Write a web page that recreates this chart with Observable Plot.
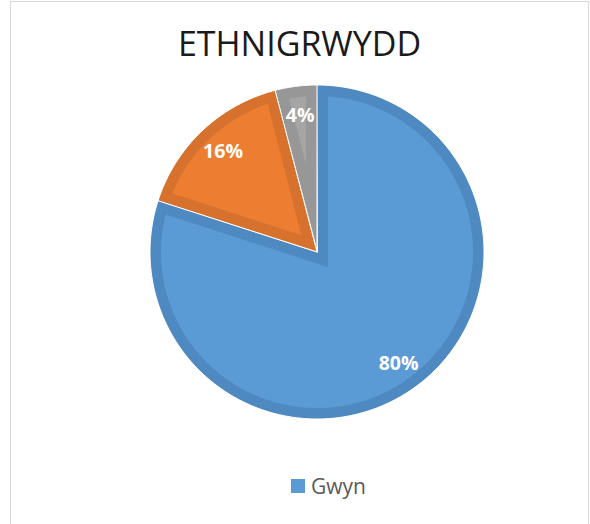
<!DOCTYPE html>
<html>
<head>
<meta charset="utf-8">
<script src="https://cdn.jsdelivr.net/npm/d3@7"></script>
<script src="https://cdn.jsdelivr.net/npm/@observablehq/plot@0.6"></script>
<style>
  html, body { margin: 0; padding: 0; background: #fff; }
  #page { position: relative; width: 590px; height: 524px; overflow: hidden; background: #fff; }
  #frame { position: absolute; left: 10px; top: 1px; width: 579px; height: 560px; border: 1.5px solid #d9d9d9; box-sizing: border-box; }
  #title { position: absolute; left: 10px; top: 23px; width: 579px; text-align: center; font-family: "Open Sans", sans-serif; font-size: 34px; line-height: 40px; color: #1a1a1a; }
  #chart { position: absolute; left: 140px; top: 75px; }
  #legend { position: absolute; left: 291px; top: 472px; font-family: "Open Sans", sans-serif; font-size: 21px; line-height: 28px; color: #595959; display: flex; align-items: center; }
  #legend .sw { width: 14px; height: 14px; margin-right: 6px; display: inline-block; }
</style>
</head>
<body>
<div id="page">
  <div id="frame"></div>
  <div id="title"></div>
  <div id="chart"></div>
  <div id="legend"></div>
</div>
<script>
// ---- data ----
const title = "ETHNIGRWYDD";
const categories = ["Gwyn", "Categori 2", "Categori 3"];
const values = [80, 16, 4];
const labels = ["80%", "16%", "4%"];
const fillColors = ["#5B9BD5", "#ED7D31", "#A5A5A5"];
const edgeColors = ["#4F89C1", "#D6722D", "#979797"];
const legendCategories = ["Gwyn"];

// ---- geometry (chart units = pixels) ----
const R = 167;      // pie radius
const D = 11;       // inner darker rim width
const HALF = 177;   // half extent of the plotting area
const LABEL_R = 138;

const pie = d3.pie().sort(null).value(d => d)(values);

function pt(r, a, extra) { return Object.assign({x: r * Math.sin(a), y: r * Math.cos(a)}, extra); }

const outer = [];   // polygon rows for each slice (dark rim colour)
const inner = [];   // inset polygon rows (main fill colour)
const labelRows = [];
pie.forEach((s, i) => {
  const a0 = s.startAngle, a1 = s.endAngle, th = a1 - a0, mid = (a0 + a1) / 2;
  const n = Math.max(8, Math.ceil(th / (Math.PI / 180)));
  for (let k = 0; k <= n; k++) {
    const a = a0 + th * k / n;
    outer.push(Object.assign(pt(R, a, {cat: categories[i], c: edgeColors[i]}), {x2: 0, y2: 0}));
  }
  const ri = R - D;
  const da = Math.asin(D / ri);
  const v = D / Math.sin(th / 2);
  const vx = v * Math.sin(mid), vy = v * Math.cos(mid);
  for (let k = 0; k <= n; k++) {
    const a = (a0 + da) + (th - 2 * da) * k / n;
    inner.push(Object.assign(pt(ri, a, {cat: categories[i], c: fillColors[i]}), {x2: vx, y2: vy}));
  }
  labelRows.push(pt(LABEL_R, mid, {label: labels[i]}));
});

const W = 2 * HALF;
const chart = Plot.plot({
  width: W, height: W,
  margin: 0,
  x: {domain: [-HALF, HALF], axis: null},
  y: {domain: [-HALF, HALF], axis: null},
  color: {type: "identity"},
  marks: [
    Plot.area(outer, {x1: "x", y1: "y", x2: "x2", y2: "y2", z: "cat", fill: "c", stroke: "#fff", strokeWidth: 1, strokeLinejoin: "miter", curve: "linear"}),
    Plot.area(inner, {x1: "x", y1: "y", x2: "x2", y2: "y2", z: "cat", fill: "c", curve: "linear"}),
    Plot.text(labelRows, {x: "x", y: "y", text: "label", fill: "#fff", fontSize: 19.5, fontWeight: "bold", fontFamily: "Open Sans"})
  ]
});
document.getElementById("chart").appendChild(chart);

document.getElementById("title").textContent = title;
const lg = document.getElementById("legend");
legendCategories.forEach(c => {
  const sw = document.createElement("span");
  sw.className = "sw";
  sw.style.background = fillColors[categories.indexOf(c)];
  const t = document.createElement("span");
  t.textContent = c;
  lg.appendChild(sw); lg.appendChild(t);
});
</script>
</body>
</html>
